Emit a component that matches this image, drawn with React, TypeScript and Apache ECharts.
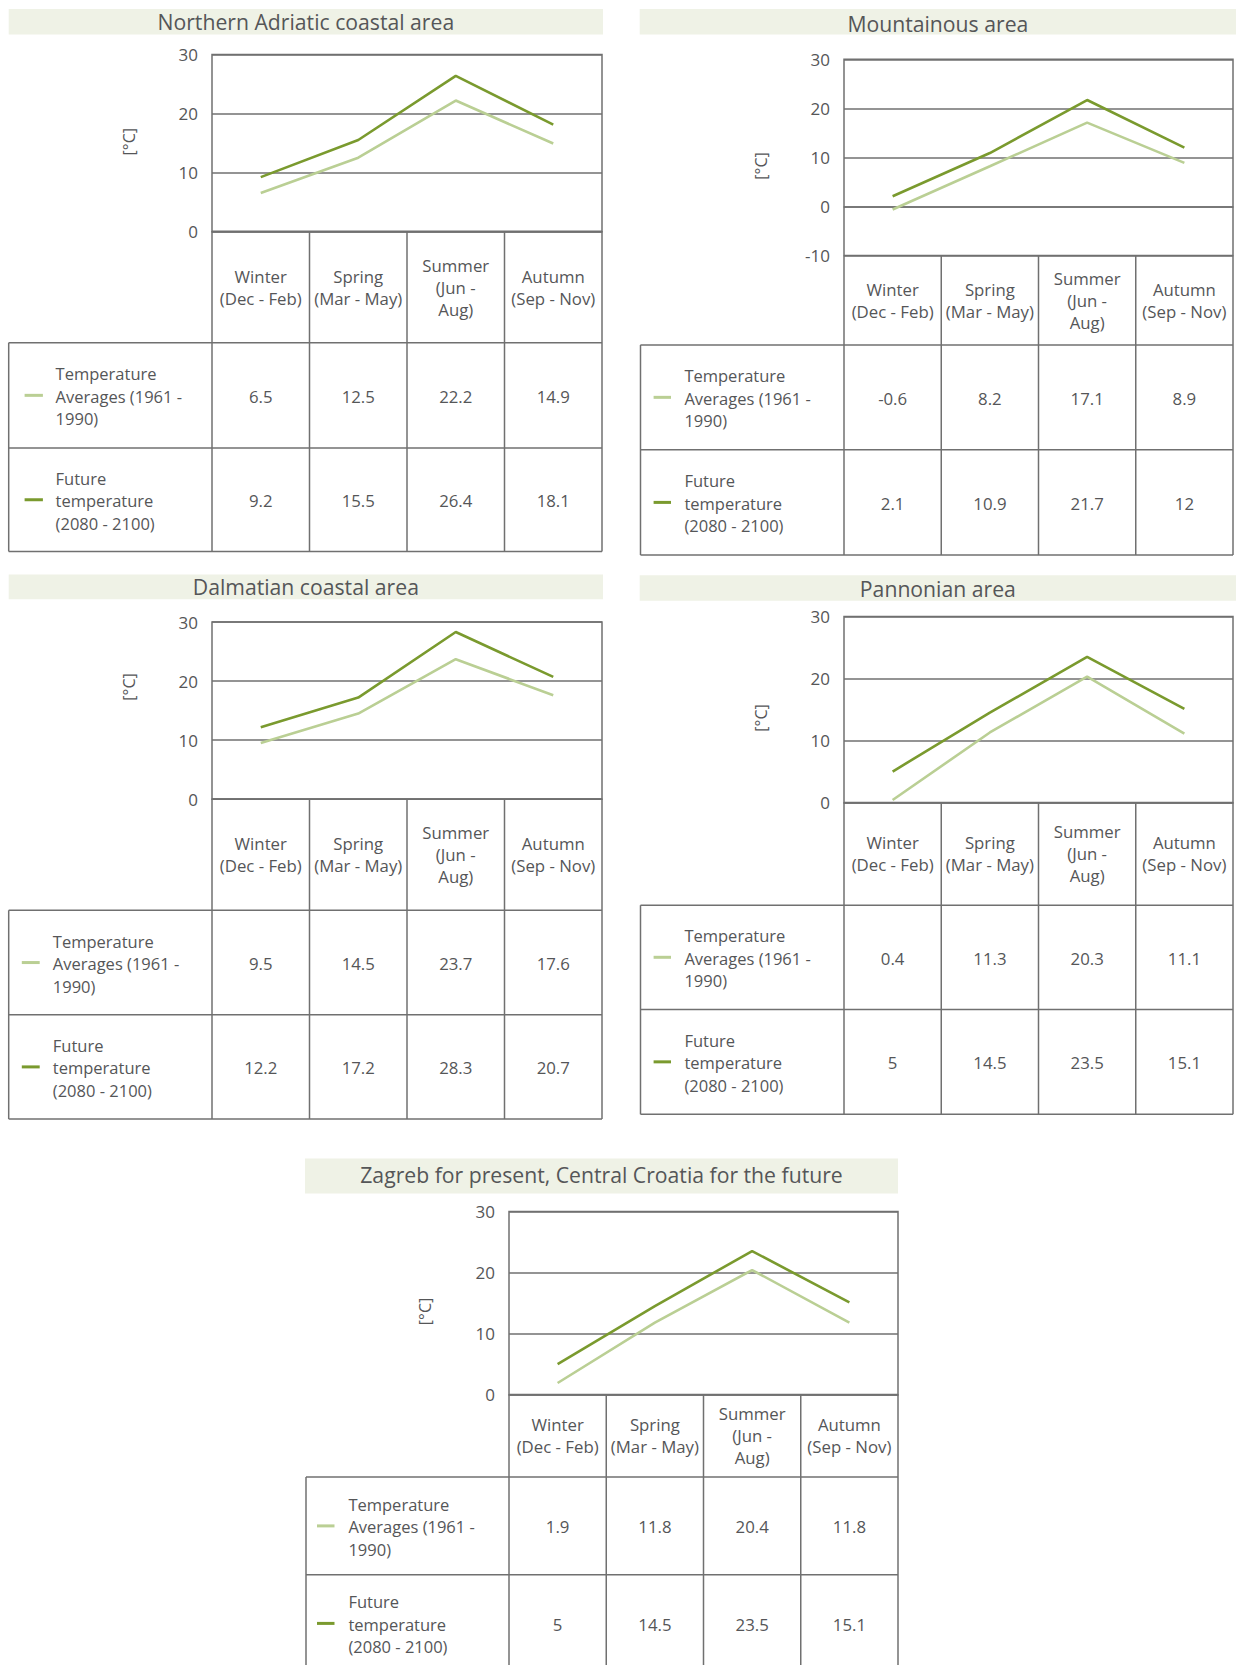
import React, { useEffect, useRef } from "react";
import * as echarts from "echarts";

// ---- data ----
const categories = ["Winter\n(Dec - Feb)", "Spring\n(Mar - May)", "Summer\n(Jun -\nAug)", "Autumn\n(Sep - Nov)"];
const regionTitles = [
  "Northern Adriatic coastal area",
  "Mountainous area",
  "Dalmatian coastal area",
  "Pannonian area",
  "Zagreb for present, Central Croatia for the future",
];
const seriesNames = ["Temperature\nAverages (1961 -\n1990)", "Future\ntemperature\n(2080 - 2100)"];
const unitLabel = "[°C]";

const avgNorthernAdriatic = [6.5, 12.5, 22.2, 14.9];
const futNorthernAdriatic = [9.2, 15.5, 26.4, 18.1];
const avgMountainous = [-0.6, 8.2, 17.1, 8.9];
const futMountainous = [2.1, 10.9, 21.7, 12];
const avgDalmatian = [9.5, 14.5, 23.7, 17.6];
const futDalmatian = [12.2, 17.2, 28.3, 20.7];
const avgPannonian = [0.4, 11.3, 20.3, 11.1];
const futPannonian = [5, 14.5, 23.5, 15.1];
const avgZagreb = [1.9, 11.8, 20.4, 11.8];
const futZagreb = [5, 14.5, 23.5, 15.1];

const yMins = [0, -10, 0, 0, 0];
const yMaxs = [30, 30, 30, 30, 30];
const yInterval = 10;

const panelData = [
  [avgNorthernAdriatic, futNorthernAdriatic],
  [avgMountainous, futMountainous],
  [avgDalmatian, futDalmatian],
  [avgPannonian, futPannonian],
  [avgZagreb, futZagreb],
];

// ---- layout (pixels) ----
const layout = [
  { band: [8.7, 8.9, 603, 34.6], titleY: 21, left: 212, right: 602, top: 54.6, axisBottom: 231.3, headerBottom: 342.7, row1Bottom: 448, row2Bottom: 551.5, tableLeft: 8.7, markX: [24.6, 42.9], textX: 55.6, unitX: 129, unitY: 141.7 },
  { band: [639.7, 8.9, 1236, 34.6], titleY: 23.6, left: 844, right: 1233, top: 59.3, axisBottom: 255.6, headerBottom: 344.9, row1Bottom: 449.8, row2Bottom: 555, tableLeft: 640.5, markX: [653.6, 671], textX: 684.4, unitX: 761, unitY: 166 },
  { band: [8.7, 574.5, 603, 599.2], titleY: 586, left: 212, right: 602, top: 622, axisBottom: 799.2, headerBottom: 910.3, row1Bottom: 1014.8, row2Bottom: 1119, tableLeft: 8.7, markX: [21.8, 39.7], textX: 52.8, unitX: 129, unitY: 687 },
  { band: [639.7, 575.2, 1236, 600.7], titleY: 588.3, left: 844, right: 1233, top: 616.6, axisBottom: 802.5, headerBottom: 905.2, row1Bottom: 1009.4, row2Bottom: 1114.3, tableLeft: 640.5, markX: [653.6, 671], textX: 684.4, unitX: 761, unitY: 718 },
  { band: [305, 1158.4, 898, 1193.6], titleY: 1174.5, left: 509, right: 898, top: 1211.4, axisBottom: 1394.6, headerBottom: 1477, row1Bottom: 1574.8, row2Bottom: 1672, tableLeft: 306, markX: [317, 334.5], textX: 348.4, unitX: 425, unitY: 1311.5 },
];

const FONT = "'Open Sans', 'Noto Sans', sans-serif";
const TEXT = "#555658";
const LINE = "#707070";
const BAND = "#eff2e6";
const COLORS = ["#bacf94", "#7a9a2e"];

function buildOption() {
  const grid: any[] = [];
  const xAxis: any[] = [];
  const yAxis: any[] = [];
  const series: any[] = [];
  const graphic: any[] = [];

  layout.forEach((p, i) => {
    grid.push({
      left: p.left,
      top: p.top,
      width: p.right - p.left,
      height: p.axisBottom - p.top,
      show: true,
      borderColor: LINE,
      borderWidth: 1.5,
      containLabel: false,
    });
    const headerH = p.headerBottom - p.axisBottom;
    xAxis.push({
      type: "category",
      gridIndex: i,
      data: categories,
      boundaryGap: true,
      axisLine: { show: true, lineStyle: { color: LINE, width: 1.5 } },
      axisTick: { show: false },
      axisLabel: {
        interval: 0,
        margin: headerH / 2,
        verticalAlign: "middle",
        align: "center",
        lineHeight: 22,
        fontSize: 16.8,
        fontFamily: FONT,
        color: TEXT,
      },
      splitLine: { show: false },
    });
    yAxis.push({
      type: "value",
      gridIndex: i,
      min: yMins[i],
      max: yMaxs[i],
      interval: yInterval,
      axisLine: { show: false },
      axisTick: { show: false },
      axisLabel: { margin: 14, fontSize: 17, fontFamily: FONT, color: TEXT },
      splitLine: { show: true, lineStyle: { color: LINE, width: 1.5 } },
    });
    panelData[i].forEach((vals, s) => {
      series.push({
        type: "line",
        name: seriesNames[s],
        xAxisIndex: i,
        yAxisIndex: i,
        data: vals,
        symbol: "none",
        lineStyle: { color: COLORS[s], width: 2.6 },
        itemStyle: { color: COLORS[s] },
        z: 3 + s,
      });
    });

    // title band + title
    const [bx1, by1, bx2, by2] = p.band;
    graphic.push({ type: "rect", shape: { x: bx1, y: by1, width: bx2 - bx1, height: by2 - by1 }, style: { fill: BAND }, silent: true });
    graphic.push({
      type: "text",
      x: (bx1 + bx2) / 2,
      y: p.titleY,
      style: { text: regionTitles[i], fill: TEXT, fontSize: 21.2, fontFamily: FONT, align: "center", verticalAlign: "middle" },
    });
    // unit label
    graphic.push({
      type: "text",
      x: p.unitX,
      y: p.unitY,
      rotation: Math.PI / 2,
      style: { text: unitLabel, fill: TEXT, fontSize: 16, fontFamily: FONT, align: "center", verticalAlign: "middle" },
    });

    // table lines
    const ls = { stroke: LINE, lineWidth: 1.5 };
    const hl = (x1: number, x2: number, y: number) => graphic.push({ type: "line", shape: { x1, y1: y, x2, y2: y }, style: ls, silent: true });
    const vl = (x: number, y1: number, y2: number) => graphic.push({ type: "line", shape: { x1: x, y1, x2: x, y2 }, style: ls, silent: true });
    hl(p.tableLeft, p.right, p.headerBottom);
    hl(p.tableLeft, p.right, p.row1Bottom);
    hl(p.tableLeft, p.right, p.row2Bottom);
    const band = (p.right - p.left) / categories.length;
    for (let c = 0; c <= categories.length; c++) vl(p.left + c * band, p.axisBottom, p.row2Bottom);
    vl(p.tableLeft, p.headerBottom, p.row2Bottom);

    const rowCenters = [(p.headerBottom + p.row1Bottom) / 2, (p.row1Bottom + p.row2Bottom) / 2];
    panelData[i].forEach((vals, s) => {
      const cy = rowCenters[s];
      graphic.push({ type: "line", shape: { x1: p.markX[0], y1: cy, x2: p.markX[1], y2: cy }, style: { stroke: COLORS[s], lineWidth: 3 }, silent: true });
      graphic.push({
        type: "text",
        x: p.textX,
        y: cy + 1,
        style: { text: seriesNames[s], fill: TEXT, fontSize: 16.5, fontFamily: FONT, align: "left", verticalAlign: "middle", lineHeight: 22.5 },
      });
      vals.forEach((v, c) => {
        graphic.push({
          type: "text",
          x: p.left + (c + 0.5) * band,
          y: cy + 1,
          style: { text: String(v), fill: TEXT, fontSize: 16.8, fontFamily: FONT, align: "center", verticalAlign: "middle" },
        });
      });
    });
  });

  return {
    animation: false,
    backgroundColor: "#ffffff",
    textStyle: { fontFamily: FONT },
    grid,
    xAxis,
    yAxis,
    series,
    graphic: { elements: graphic },
  };
}

export default function App() {
  const ref = useRef<HTMLDivElement>(null);
  useEffect(() => {
    document.body.style.margin = "0";
    document.body.style.overflow = "hidden";
    if (!ref.current) return;
    const chart = echarts.init(ref.current, undefined, { renderer: "svg" });
    chart.setOption(buildOption() as any);
    return () => chart.dispose();
  }, []);
  return <div ref={ref} style={{ position: "absolute", left: 0, top: 0, width: 1236, height: 1665 }} />;
}
